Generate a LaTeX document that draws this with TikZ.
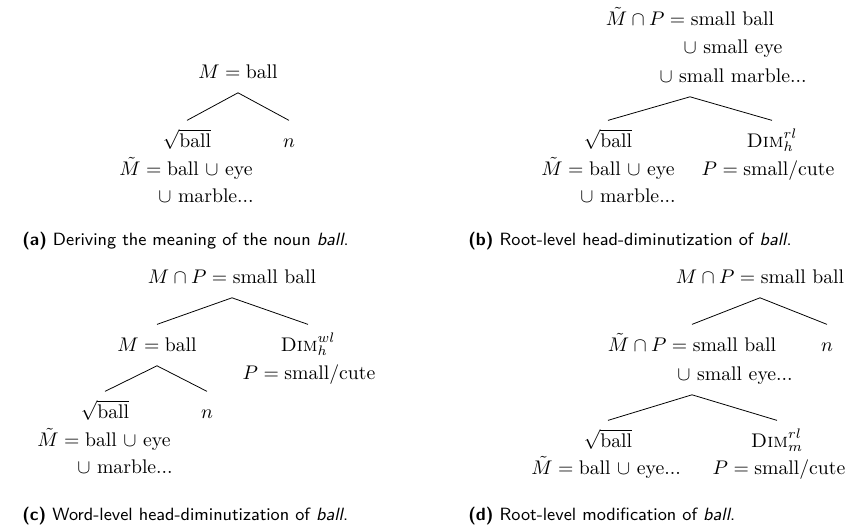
\documentclass[tikz,border=0pt]{standalone}
\usepackage{amsmath,amssymb}
\usepackage{tikz}
\usetikzlibrary{positioning,calc}

\tikzset{
  lbl/.style={anchor=base,inner sep=0pt,text height=7pt,text depth=1pt,outer ysep=6.5pt},
  capt/.style={anchor=base west,inner sep=0pt,font=\sffamily\small},
}
\newcommand{\Dim}[2]{$\textsc{Dim}^{#1}_{#2}$}

\begin{document}
\begin{tikzpicture}[x=0.507pt,y=-0.507pt]
\useasboundingbox (0,0) rectangle (847,528);
% (a) noun
\node[lbl] (a-top) at (238,78) {$M=\text{ball}$};
\node[lbl] (a-root) at (187,147) {$\sqrt{\text{ball}}$};
\node[lbl] (a-n) at (289,147) {$n$};
\node[lbl] (a-m1) at (186,175) {$\tilde{M}={}$ball $\cup$ eye};
\node[lbl] (a-m2) at (206,202) {$\cup$ marble...};
\draw (a-root.north) -- (a-top.south) -- (a-n.north);
\node[capt] (a-cap) at (22,245) {\textbf{(a)} Deriving the meaning of the noun \textit{ball}.};

% (b) root-level head
\node[lbl] (b-top) at (690,25) {$\tilde{M}\cap P=\text{small ball}$};
\node[lbl] (b-l2) at (733,53) {$\cup$ small eye};
\node[lbl] (b-l3) at (733,82) {$\cup$ small marble...};
\node[lbl] (b-root) at (608,147) {$\sqrt{\text{ball}}$};
\node[lbl] (b-dim) at (772,147) {\Dim{rl}{h}};
\node[lbl] (b-m1) at (608,175) {$\tilde{M}={}$ball $\cup$ eye};
\node[lbl] (b-m2) at (628,202) {$\cup$ marble...};
\node[lbl] (b-p) at (768,175) {$P=\text{small/cute}$};
\draw (b-root.north) -- (b-top |- b-l3.south) -- (b-dim.north);
\node[capt] (b-cap) at (468,245) {\textbf{(b)} Root-level head-diminutization of \textit{ball}.};

% (c) word-level head
\node[lbl] (c-top) at (232,283) {$M\cap P=\text{small ball}$};
\node[lbl] (c-m) at (157,351) {$M=\text{ball}$};
\node[lbl] (c-dim) at (308,351) {\Dim{wl}{h}};
\node[lbl] (c-p) at (309,379) {$P=\text{small/cute}$};
\node[lbl] (c-root) at (105,418) {$\sqrt{\text{ball}}$};
\node[lbl] (c-n) at (207,418) {$n$};
\node[lbl] (c-m1) at (104,446) {$\tilde{M}={}$ball $\cup$ eye};
\node[lbl] (c-m2) at (125,473) {$\cup$ marble...};
\draw (c-m.north) -- (c-top.south) -- (c-dim.north);
\draw (c-root.north) -- (c-m.south) -- (c-n.north);
\node[capt] (c-cap) at (22,520) {\textbf{(c)} Word-level head-diminutization of \textit{ball}.};

% (d) root-level modifier
\node[lbl] (d-top) at (760,283) {$M\cap P=\text{small ball}$};
\node[lbl] (d-mid) at (692,351) {$\tilde{M}\cap P=\text{small ball}$};
\node[lbl] (d-mid2) at (735,380) {$\cup$ small eye...};
\node[lbl] (d-n) at (827,351) {$n$};
\node[lbl] (d-root) at (608,447) {$\sqrt{\text{ball}}$};
\node[lbl] (d-dim) at (777,447) {\Dim{rl}{m}};
\node[lbl] (d-m1) at (606,474) {$\tilde{M}={}$ball $\cup$ eye...};
\node[lbl] (d-p) at (779,474) {$P=\text{small/cute}$};
\draw (d-mid.north) -- (d-top.south) -- (d-n.north);
\draw (d-root.north) -- (d-mid |- d-mid2.south) -- (d-dim.north);
\node[capt] (d-cap) at (468,520) {\textbf{(d)} Root-level modification of \textit{ball}.};
\end{tikzpicture}
\end{document}
